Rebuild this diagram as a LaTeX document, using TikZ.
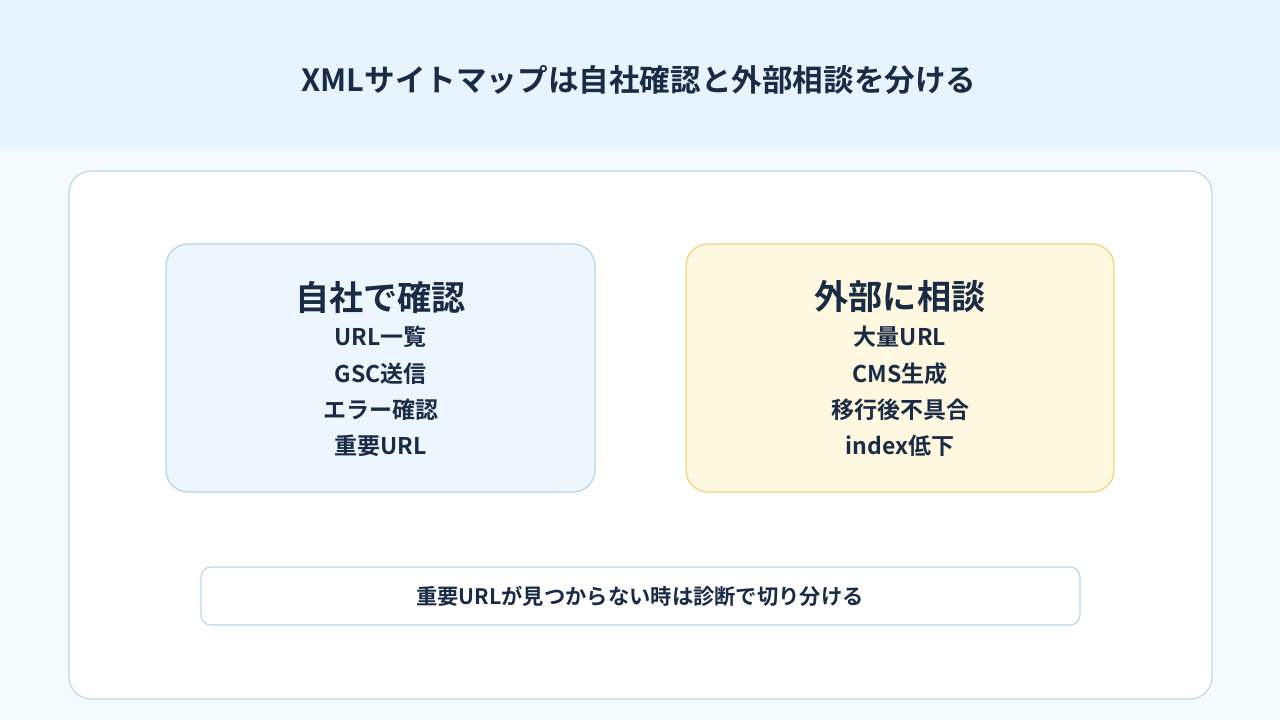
\documentclass[tikz,border=0pt]{standalone}
\usepackage{fontspec}
\setmainfont{Noto Sans CJK JP}[BoldFont={* Bold}]
\definecolor{hdr}{HTML}{E8F4FD}
\definecolor{bgc}{HTML}{F5FAFD}
\definecolor{ink}{HTML}{1A2B45}
\definecolor{cardb}{HTML}{B9D8E8}
\definecolor{lfill}{HTML}{EEF6FD}
\definecolor{lbord}{HTML}{B5D3E8}
\definecolor{rfill}{HTML}{FFF8E1}
\definecolor{rbord}{HTML}{EDD27A}
\definecolor{bbord}{HTML}{C0D4E4}
\tikzset{
  box/.style={draw, line width=1.2pt, rounded corners=22pt},
  item/.style={text=ink, font=\bfseries\fontsize{23}{26}\selectfont},
  btitle/.style={text=ink, font=\bfseries\fontsize{34.2}{38}\selectfont}
}
\begin{document}
\begin{tikzpicture}[x=1pt,y=-1pt]
\useasboundingbox (0,0) rectangle (1280,720);
\fill[bgc] (0,0) rectangle (1280,720);
\fill[hdr] (0,0) rectangle (1280,150);
\node[text=ink, font=\bfseries\fontsize{30.6}{34}\selectfont] (title) at (639,80) {XMLサイトマップは自社確認と外部相談を分ける};
\draw[box, fill=white, draw=cardb] (69,171) rectangle (1212,699);
\draw[box, fill=lfill, draw=lbord] (166,244) rectangle (595,492);
\draw[box, fill=rfill, draw=rbord] (686,244) rectangle (1114,492);
\node[btitle] (lt) at (380.5,297) {自社で確認};
\node[item] (l1) at (380.5,337) {URL一覧};
\node[item] (l2) at (380.5,374) {GSC送信};
\node[item] (l3) at (380.5,410) {エラー確認};
\node[item] (l4) at (380.5,446) {重要URL};
\node[btitle] (rt) at (900,297) {外部に相談};
\node[item] (r1) at (900,337) {大量URL};
\node[item] (r2) at (900,374) {CMS生成};
\node[item] (r3) at (900,410) {移行後不具合};
\node[item] (r4) at (900,446) {index低下};
\draw[fill=white, draw=bbord, line width=1.2pt, rounded corners=10pt] (201,567) rectangle (1080,625);
\node[text=ink, font=\bfseries\fontsize{21.3}{24}\selectfont] (note) at (640,596) {重要URLが見つからない時は診断で切り分ける};
\end{tikzpicture}
\end{document}
